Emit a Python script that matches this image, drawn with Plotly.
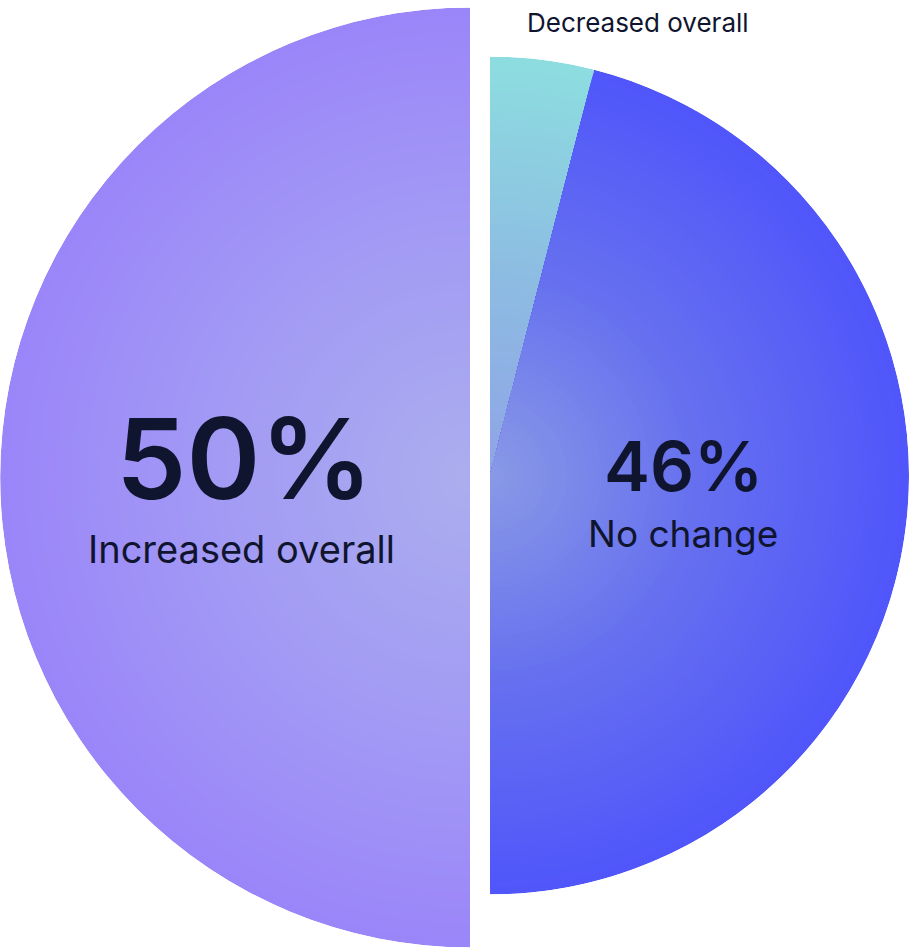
import numpy as np
import plotly.graph_objects as go

# Survey split (percent of respondents)
categories = ["Decreased overall", "No change", "Increased overall"]
shares = [4, 46, 50]
value_labels = ["", "46%", "50%"]

W, H = 909, 952
INK = "#10152f"
FONT = "Inter"

# radial gradient stops, centre -> rim
gradients = {
    "Decreased overall": ["#8fa3e6", "#8dbde2", "#8ddde0"],
    "No change": ["#8a9ae6", "#6670ef", "#5056fa"],
    "Increased overall": ["#abaeee", "#a39cf4", "#9b86f9"],
}
# the growth slice sits on its own, larger half-disc on the left
subplot_of = {
    "Decreased overall": "polar2",
    "No change": "polar2",
    "Increased overall": "polar",
}


def hex_rgb(h):
    h = h.lstrip("#")
    return np.array([int(h[i:i + 2], 16) for i in (0, 2, 4)], dtype=float)


def ramp(stops, t):
    pts = np.linspace(0, 1, len(stops))
    cols = [hex_rgb(s) for s in stops]
    rgb = [np.interp(t, pts, [c[i] for c in cols]) for i in range(3)]
    return "rgb({:.0f},{:.0f},{:.0f})".format(*rgb)


N_BANDS = 60
band_r = np.linspace(1, 0, N_BANDS, endpoint=False)  # outermost first

fig = go.Figure()
start = 0.0
for cat, share in zip(categories, shares):
    width = share * 3.6
    centre = start + width / 2
    start += width
    fig.add_trace(go.Barpolar(
        r=band_r,
        theta=[centre] * N_BANDS,
        width=[width] * N_BANDS,
        marker=dict(color=[ramp(gradients[cat], t) for t in band_r],
                    line=dict(width=0)),
        subplot=subplot_of[cat],
        name=cat,
        hoverinfo="skip",
        showlegend=False,
    ))


def px_x(x):
    return x / W


def px_y(y):
    return 1 - y / H


def polar_axes(sector, x0, x1, y0, y1):
    return dict(
        domain=dict(x=[px_x(x0), px_x(x1)], y=[px_y(y1), px_y(y0)]),
        sector=sector,
        bgcolor="rgba(0,0,0,0)",
        barmode="overlay",
        bargap=0,
        hole=0,
        radialaxis=dict(visible=False, range=[0, 1]),
        angularaxis=dict(visible=False, rotation=90, direction="clockwise",
                         showgrid=False, showline=False, ticks=""),
    )


R1, C1 = 470, (470, 477.5)
R2, C2 = 419, (490, 475.5)

fig.update_layout(
    width=W, height=H, autosize=False,
    margin=dict(l=0, r=0, t=0, b=0),
    paper_bgcolor="white", plot_bgcolor="white",
    polar=polar_axes([90, 270], C1[0] - R1, C1[0], C1[1] - R1, C1[1] + R1),
    polar2=polar_axes([-90, 90], C2[0], C2[0] + R2, C2[1] - R2, C2[1] + R2),
    font=dict(family=FONT, color=INK),
)


def label(text, x, y, size, weight=400):
    fig.add_annotation(
        text=text, x=px_x(x), y=px_y(y), xref="paper", yref="paper",
        xanchor="center", yanchor="middle", showarrow=False,
        font=dict(family=FONT, size=size, color=INK, weight=weight),
    )


label(value_labels[2], 244, 458, 112, 600)
label(categories[2], 242, 549, 38)
label(value_labels[1], 683, 466, 69, 600)
label(categories[1], 683, 533, 37)
label(categories[0], 638, 22, 26)

fig.write_html("out.html")
